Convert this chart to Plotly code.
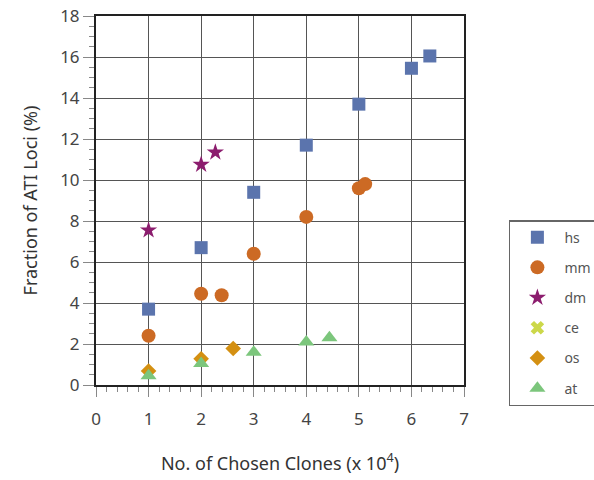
import plotly.graph_objects as go

# Data (x in units of 10^4 chosen clones, y = fraction of ATI loci %)
hs_x = [1.0, 2.0, 3.0, 4.0, 5.0, 6.0, 6.35]
hs_y = [3.7, 6.7, 9.4, 11.7, 13.7, 15.45, 16.05]
mm_x = [1.0, 2.0, 2.39, 3.0, 4.0, 5.0, 5.12]
mm_y = [2.4, 4.45, 4.38, 6.4, 8.2, 9.6, 9.8]
dm_x = [1.0, 2.0, 2.27]
dm_y = [7.55, 10.75, 11.35]
ce_x = [None]
ce_y = [None]
os_x = [1.0, 2.0, 2.61]
os_y = [0.68, 1.28, 1.78]
at_x = [1.0, 2.0, 3.0, 4.0, 4.44]
at_y = [0.45, 1.05, 1.6, 2.1, 2.3]

series = [
    ("hs", hs_x, hs_y, "square", "#5b74ad", 13),
    ("mm", mm_x, mm_y, "circle", "#cc6a24", 14),
    ("dm", dm_x, dm_y, "star", "#8c1d6e", 13),
    ("ce", ce_x, ce_y, "x", "#ccd84a", 12),
    ("os", os_x, os_y, "diamond", "#d49012", 12),
    ("at", at_x, at_y, "triangle-up", "#7cc67c", 14),
]

FONT = "Noto Sans"
fig = go.Figure()
for name, xs, ys, sym, col, sz in series:
    fig.add_trace(go.Scatter(
        x=xs, y=ys, mode="markers", name=name, legendgroup=name,
        marker=dict(symbol=sym, color=col, size=sz, line=dict(width=0)),
    ))

axis_common = dict(
    showline=True, linecolor="#222", linewidth=2, mirror=True,
    showgrid=True, gridcolor="#555", gridwidth=1,
    ticks="outside", tickcolor="#888", tickwidth=1.2,
    zeroline=False, automargin=False,
    tickfont=dict(family=FONT, size=17, color="#444"),
)

fig.update_xaxes(
    range=[0, 7], dtick=1, tick0=0, ticklen=10, ticklabelstandoff=8,
    minor=dict(dtick=0.2, ticks="outside", ticklen=5, tickcolor="#888", showgrid=False),
    title=dict(text="No. of Chosen Clones (x 10<sup>4</sup>)",
               font=dict(family=FONT, size=18, color="#333"), standoff=28),
    **axis_common,
)
fig.update_yaxes(
    range=[0, 18], dtick=2, tick0=0, ticklen=11,
    minor=dict(dtick=0.5, ticks="outside", ticklen=5, tickcolor="#888", showgrid=False),
    title=dict(text="Fraction of ATI Loci (%)",
               font=dict(family=FONT, size=18, color="#333"), standoff=18),
    **axis_common,
)

fig.update_layout(
    width=594, height=480,
    margin=dict(l=96, r=130, t=16, b=95, autoexpand=False),
    paper_bgcolor="white", plot_bgcolor="white",
    showlegend=True,
    legend=dict(
        x=1.122, y=0.447, xanchor="left", yanchor="top",
        bordercolor="#666", borderwidth=1.5, bgcolor="white",
        font=dict(family=FONT, size=14, color="#555"),
        tracegroupgap=9, itemwidth=44, entrywidth=90,
    ),
)

fig.write_html("out.html")
